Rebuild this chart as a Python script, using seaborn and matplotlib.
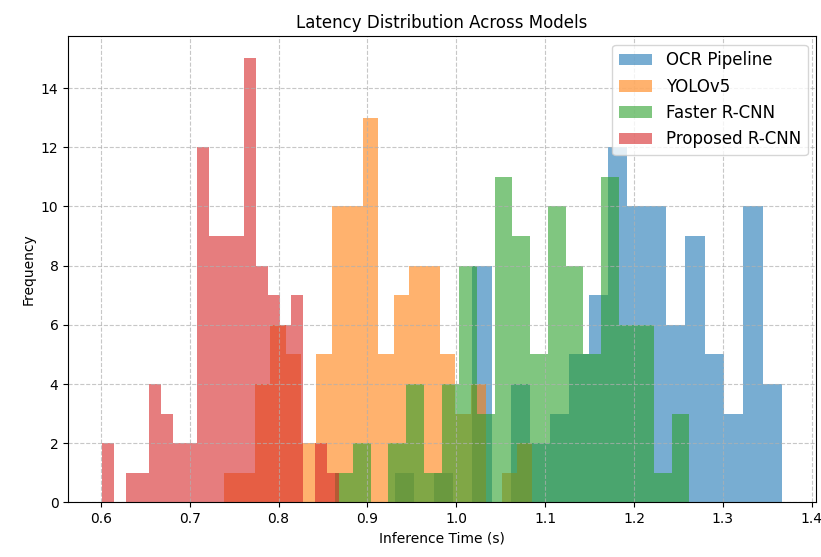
import numpy as np
import pandas as pd
import seaborn as sns
import matplotlib.pyplot as plt

# Models, plotted in this order (later ones drawn on top)
models = ['OCR Pipeline', 'YOLOv5', 'Faster R-CNN', 'Proposed R-CNN']
colors = ['tab:blue', 'tab:orange', 'tab:green', 'tab:red']

# Range of the 20 histogram bins for each model (seconds)
ocr_range = (0.9311, 1.3667)
yolo_range = (0.7385, 1.0857)
frcnn_range = (0.8639, 1.2625)
proposed_range = (0.6015, 0.8678)

# Counts per bin (100 runs per model)
ocr_counts = [1, 0, 1, 0, 8, 0, 4, 2, 3, 5, 7, 12, 10, 10, 6, 9, 5, 3, 10, 4]
yolo_counts = [1, 1, 4, 6, 5, 2, 5, 10, 10, 13, 5, 7, 8, 8, 5, 3, 4, 0, 1, 2]
frcnn_counts = [1, 2, 0, 2, 4, 1, 4, 8, 3, 11, 9, 5, 10, 8, 5, 11, 6, 6, 1, 3]
proposed_counts = [2, 0, 1, 1, 4, 3, 2, 2, 12, 9, 9, 9, 15, 8, 7, 6, 7, 0, 2, 1]

ranges = [ocr_range, yolo_range, frcnn_range, proposed_range]
counts = [ocr_counts, yolo_counts, frcnn_counts, proposed_counts]

fig, ax = plt.subplots(figsize=(8.21, 5.57), dpi=100)

for name, col, rng, cnt in zip(models, colors, ranges, counts):
    edges = np.linspace(rng[0], rng[1], len(cnt) + 1)
    df = pd.DataFrame({'t': (edges[:-1] + edges[1:]) / 2, 'n': cnt})
    sns.histplot(data=df, x='t', weights='n', bins=len(cnt), binrange=rng,
                 color=col, alpha=0.6, linewidth=0, label=name, ax=ax)

ax.set_title('Latency Distribution Across Models')
ax.set_xlabel('Inference Time (s)')
ax.set_ylabel('Frequency')
ax.legend(loc='upper right', fontsize=12)
ax.grid(True, linestyle='--', alpha=0.7)

plt.subplots_adjust(left=0.083, right=0.994, bottom=0.098, top=0.935)
plt.savefig('out.png', dpi=100)
